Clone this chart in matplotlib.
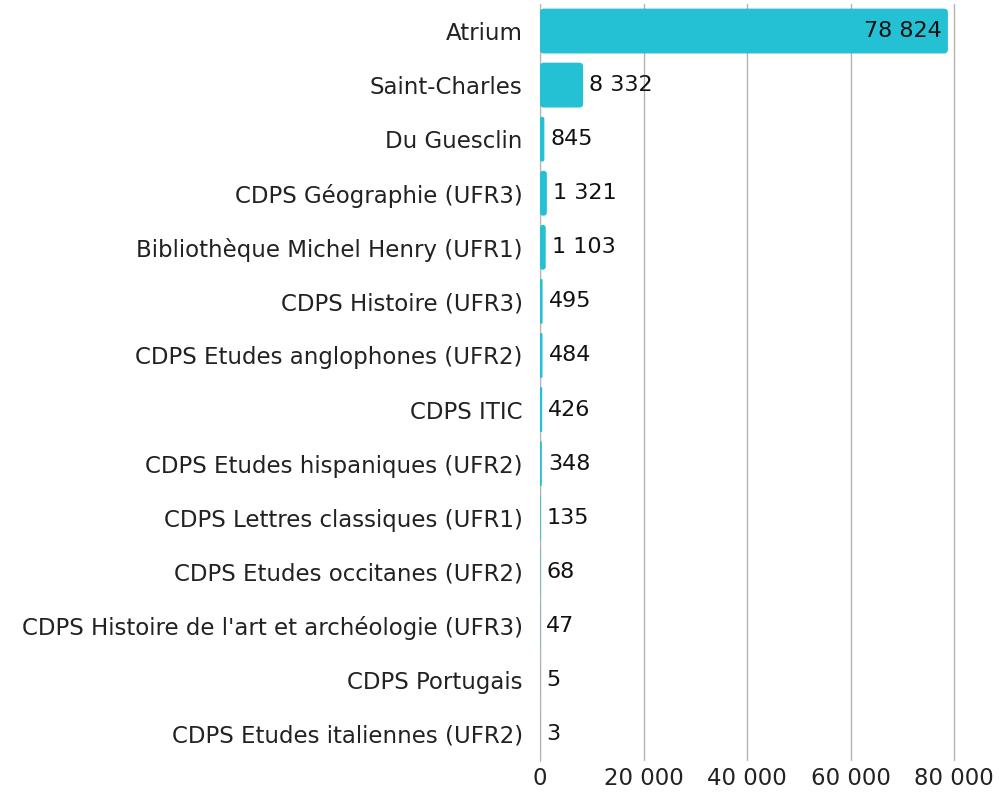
import matplotlib
matplotlib.use("Agg")
import matplotlib.pyplot as plt
from matplotlib.patches import FancyBboxPatch
from matplotlib.ticker import FuncFormatter

categories = [
    "Atrium", "Saint-Charles", "Du Guesclin", "CDPS Géographie (UFR3)",
    "Bibliothèque Michel Henry (UFR1)", "CDPS Histoire (UFR3)",
    "CDPS Etudes anglophones (UFR2)", "CDPS ITIC", "CDPS Etudes hispaniques (UFR2)",
    "CDPS Lettres classiques (UFR1)", "CDPS Etudes occitanes (UFR2)",
    "CDPS Histoire de l'art et archéologie (UFR3)", "CDPS Portugais",
    "CDPS Etudes italiennes (UFR2)",
]
values = [78824, 8332, 845, 1321, 1103, 495, 484, 426, 348, 135, 68, 47, 5, 3]
xticks = [0, 20000, 40000, 60000, 80000]

plt.rcParams['font.family'] = ['DejaVu Sans']
color = "#24C0D3"
W, H = 999, 792
fig = plt.figure(figsize=(W / 100, H / 100), dpi=100)
left, right, top, bottom = 540, 956, 4, 761
xmax = 80000 * (right - left) / 414.0
ax = fig.add_axes([left / W, 1 - bottom / H, (right - left) / W, (bottom - top) / H])

n = len(categories)
ys = list(range(n))
bars = ax.barh(ys, values, height=0.83, color=color)
ax.set_xlim(0, xmax)
ax.set_ylim(n - 0.5, -0.5)

px_x = xmax / (right - left)
px_y = n / (bottom - top)
rpx = 4
m = px_y / px_x
for b in bars:
    x0, y0, w, h = b.get_x(), b.get_y(), b.get_width(), b.get_height()
    b.set_visible(False)
    r = min(rpx * px_x, w / 2)
    p = FancyBboxPatch((x0, y0), w, h, boxstyle=f"round,pad=0,rounding_size={r}",
                       mutation_aspect=m, facecolor=color, edgecolor="none", zorder=2)
    ax.add_patch(p)

def fmt(v):
    return f"{v:,}".replace(",", " ")

fs_val = 16
for y, v in zip(ys, values):
    if v > 40000:
        ax.text(v - 6 * px_x, y, fmt(v), ha="right", va="center", fontsize=fs_val, color="#111111", zorder=3)
    else:
        ax.text(v + 6 * px_x, y, fmt(v), ha="left", va="center", fontsize=fs_val, color="#111111", zorder=3)

ax.set_yticks(ys)
ax.set_yticklabels(categories, fontsize=16.5, color="#222222")
ax.set_xticks(xticks)
ax.xaxis.set_major_formatter(FuncFormatter(lambda v, p: fmt(int(v))))
ax.tick_params(axis="x", labelsize=16.5, colors="#222222", length=0, pad=4)
ax.tick_params(axis="y", length=0, pad=12.5)
ax.grid(axis="x", color="#b3b3b3", linewidth=1)
ax.set_axisbelow(True)
for s in ["top", "right", "bottom"]:
    ax.spines[s].set_visible(False)
ax.spines["left"].set_color("#b3b3b3")
ax.spines["left"].set_zorder(1)

fig.savefig("out.png", dpi=100)
